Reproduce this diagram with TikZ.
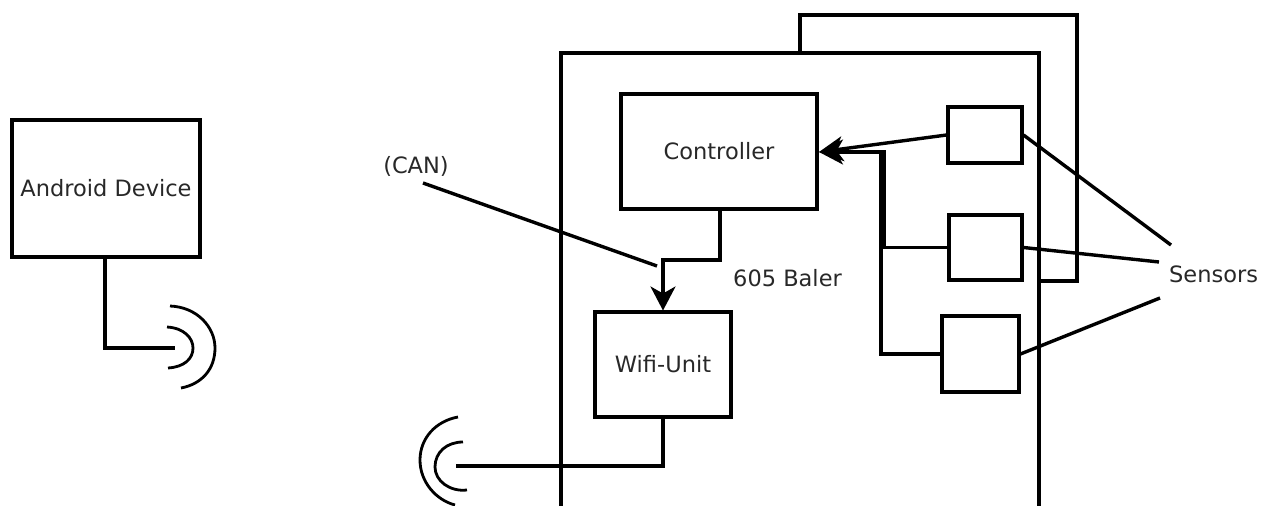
\documentclass[tikz,border=0pt]{standalone}
\usepackage{fontspec}
\setmainfont{DejaVu Sans}
\usetikzlibrary{arrows.meta,positioning}
\definecolor{textgray}{RGB}{40,40,40}
\tikzset{
  basebox/.style={rectangle,draw=black,line width=3.4pt,inner sep=0pt,outer sep=1.5pt,align=center,font=\fontsize{22.5}{26}\selectfont,text=textgray},
  ctrlnode/.style={basebox,minimum width=196pt,minimum height=115pt},
  wifinode/.style={basebox,minimum width=136pt,minimum height=105pt},
  devnode/.style={basebox,minimum width=188pt,minimum height=137pt},
  labelnode/.style={inner sep=0pt,font=\fontsize{22.5}{26}\selectfont,text=textgray},
  wire/.style={line width=3.4pt,line join=miter},
  arr/.style={wire,-{Stealth[length=24pt,width=25pt,inset=7pt]}},
  wave/.style={line width=2.8pt}
}
\begin{document}
\begin{tikzpicture}[x=1pt,y=-1pt]
  \useasboundingbox (0,0) rectangle (1262,506);
  % housing
  \begin{scope}
    \clip (0,0) rectangle (1262,506);
    \draw[wire] (800,53) -- (800,15) -- (1077,15) -- (1077,281) -- (1039,281);
    \draw[wire] (561,520) -- (561,53) -- (1039,53) -- (1039,520);
  \end{scope}

  \node[devnode] (dev) at (106,188.5) {Android Device};
  \node[ctrlnode] (ctrl) at (719,151.5) {Controller};
  \node[wifinode] (wifi) at (663,364.5) {Wifi-Unit};

  \node[basebox,minimum width=74pt,minimum height=56pt] (sa) at (985,135) {};
  \node[basebox,minimum width=73pt,minimum height=65pt,below=49pt of sa,xshift=0.5pt] (sb) {};
  \node[basebox,minimum width=77pt,minimum height=76pt,below=33pt of sb,xshift=-5pt] (sc) {};

  \node[labelnode,anchor=west] (sens) at (1169,274) {Sensors};
  \node[labelnode] (can) at (416,166) {(CAN)};
  \node[labelnode,anchor=west] (baler) at (733,278) {605 Baler};

  \coordinate (senstop) at (1171,245);
  \coordinate (sensmid) at (1159,262);
  \coordinate (sensbot) at (1160,298);
  \coordinate (canend) at (657,266);
  \coordinate (devant) at (175,348);
  \coordinate (wifiant) at (456,466);
  \coordinate (ctrltip) at (819,152);

  \draw[wire] (dev.south) ++(-1,0) |- (devant);
  \draw[wave] (167,327) .. controls (184,328) and (193,338) .. (193,348) .. controls (193,359) and (184,367) .. (168,368);
  \draw[wave] (170,306) .. controls (197,307) and (215,327) .. (215,348) .. controls (215,369) and (202,384) .. (181,388);

  \draw[wire] (423,183) -- (canend);
  \draw[wire] (ctrl.south) ++(1,0) -- (720,260) -- (663,260) -- (663,285);
  \draw[arr] (663,270) -- (wifi.north);
  \draw[wire] (wifi.south) |- (wifiant);
  \draw[wave] (463,442) .. controls (447,442) and (435,452) .. (435,467) .. controls (435,481) and (450,492) .. (467,490);
  \draw[wave] (458,417) .. controls (436,421) and (420,438) .. (420,460) .. controls (420,482) and (436,500) .. (455,505);

  \draw[arr] (sa.west) -- (ctrltip);
  \draw[wire] (sb.west) -- (884,247.5) -- (884,152) -- (850,152);
  \draw[wire] (sc.west) -- (881,354) -- (881,152) -- (850,152);
  \draw[arr] (860,152) -- (ctrltip);

  \draw[wire] (sa.east) -- (senstop);
  \draw[wire] (sb.east) -- (sensmid);
  \draw[wire] (sc.east) -- (sensbot);
\end{tikzpicture}
\end{document}
